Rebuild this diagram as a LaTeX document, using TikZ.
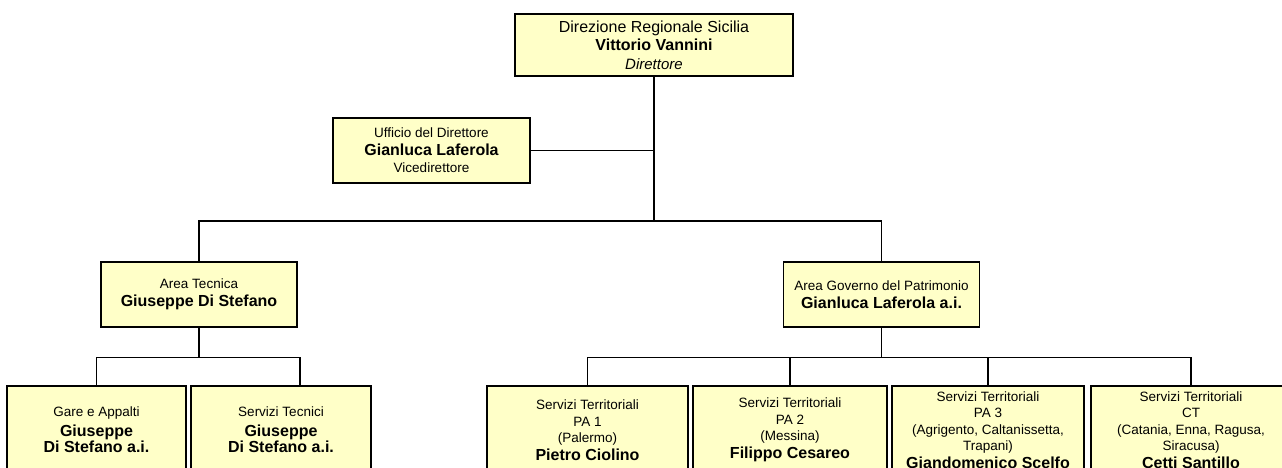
\documentclass[tikz,border=0pt]{standalone}
\usepackage{fontspec}
\setmainfont{Liberation Sans}
\definecolor{boxfill}{RGB}{255,255,200}
\newcommand{\nm}[1]{{\fontsize{16}{19}\selectfont\bfseries #1}}

\begin{document}
\begin{tikzpicture}[x=1pt,y=-1pt,
    unit/.style={draw=black,fill=boxfill,line width=1.3pt,inner sep=0pt,align=center,
      font=\fontsize{13.5}{16.5}\selectfont},
    link/.style={black,line width=1.3pt}]
  \useasboundingbox (0,0) rectangle (1282,468);
  \clip (0,0) rectangle (1282,468);

  % direzione
  \node[unit,minimum width=278,minimum height=62,font=\fontsize{16}{18.5}\selectfont] (dir) at (654,45)
    {Direzione Regionale Sicilia\\ \nm{Vittorio Vannini}\\ {\fontsize{15}{18}\selectfont\itshape Direttore}};
  \node[unit,minimum width=197,minimum height=65] (uff) at (431.5,150.5)
    {Ufficio del Direttore\\[1pt] \nm{Gianluca Laferola}\\[1pt] Vicedirettore};

  % aree
  \node[unit,minimum width=196,minimum height=65] (tec) at (199,294.5)
    {Area Tecnica\\[2pt] \nm{Giuseppe Di Stefano}};
  \node[unit,minimum width=196,minimum height=65] (gov) at (881.5,294.5)
    {Area Governo del Patrimonio\\[2pt] \nm{Gianluca Laferola a.i.}};

  % uffici area tecnica
  \node[unit,minimum width=179,minimum height=88] (gare) at (96.5,430)
    {Gare e Appalti\\[3pt] \nm{Giuseppe}\\ \nm{Di Stefano a.i.}};
  \node[unit,minimum width=180,minimum height=88] (stec) at (281,430)
    {Servizi Tecnici\\[3pt] \nm{Giuseppe}\\ \nm{Di Stefano a.i.}};

  % servizi territoriali
  \node[unit,minimum width=201,minimum height=88] (pa1) at (587.5,430)
    {Servizi Territoriali\\ PA 1\\ (Palermo)\\[1pt] \nm{Pietro Ciolino}};
  \node[unit,minimum width=194,minimum height=88] (pa2) at (790,430)
    {Servizi Territoriali\\ PA 2\\ (Messina)\\[1pt] \nm{Filippo Cesareo}};
  \node[unit,minimum width=192,minimum height=88] (pa3) at (988,430)
    {Servizi Territoriali\\ PA 3\\ (Agrigento, Caltanissetta,\\ Trapani)\\[1pt] \nm{Giandomenico Scelfo}};
  \node[unit,minimum width=200,minimum height=88] (ct) at (1191,430)
    {Servizi Territoriali\\ CT\\ (Catania, Enna, Ragusa,\\ Siracusa)\\[1pt] \nm{Cetti Santillo}};

  % linee
  \coordinate (hub) at (654,221);
  \draw[link] (dir.south) -- (hub);
  \draw[link] (uff.east) -- (uff.east -| dir.south);
  \draw[link] (tec.north) |- (hub) -| (gov.north);

  \draw[link] (tec.south) -- ++(0,30) coordinate (tecbus);
  \coordinate (stecin) at ([xshift=19pt]stec.north);
  \draw[link] (gare.north) |- (tecbus) -| (stecin);

  \draw[link] (gov.south) -- ++(0,30) coordinate (govbus);
  \draw[link] (pa1.north) |- (govbus) -| (ct.north);
  \draw[link] (pa2.north) |- (govbus);
  \draw[link] (pa3.north) |- (govbus);
\end{tikzpicture}
\end{document}
